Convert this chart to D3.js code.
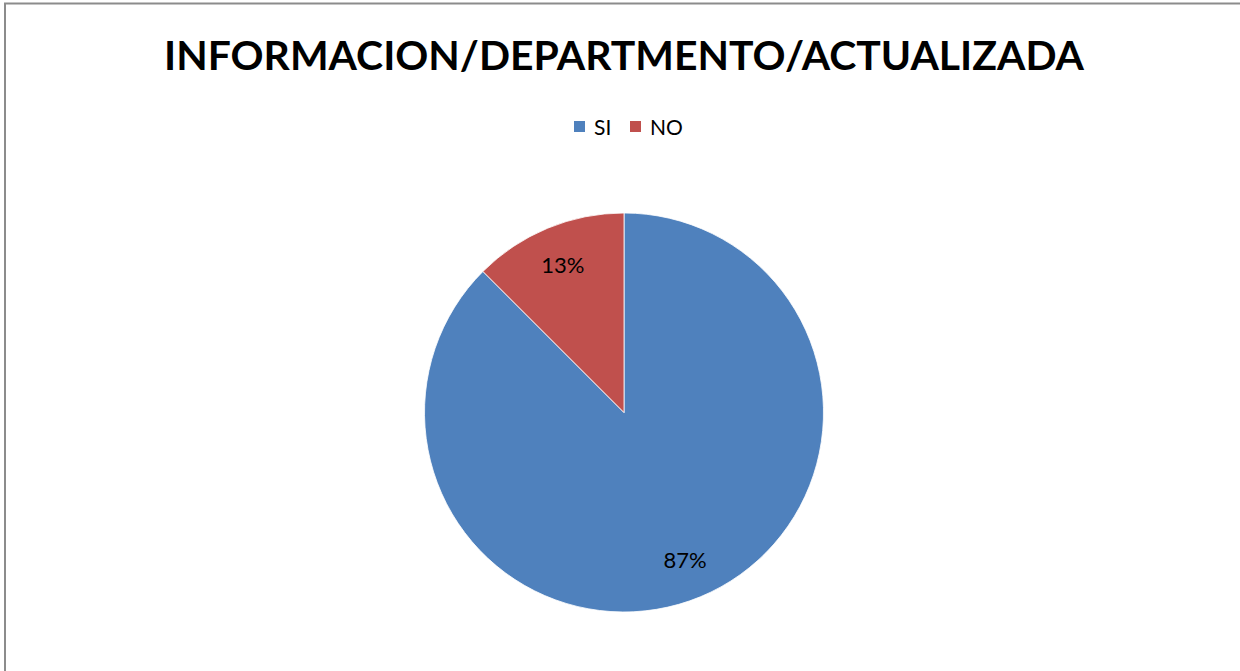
<!DOCTYPE html>
<html><head><meta charset="utf-8">
<script src="https://cdn.jsdelivr.net/npm/d3@7"></script>
<style>body{margin:0;background:#fff}svg{display:block}</style>
</head><body>
<svg id="c" width="1240" height="671"></svg>
<script>
const categories = ["SI", "NO"];
const values = [87.5, 12.5];
const labels = ["87%", "13%"];
const colors = ["#4F81BD", "#C0504D"];
const title = "INFORMACION/DEPARTMENTO/ACTUALIZADA";

const svg = d3.select("#c");
const W = 1240, H = 671;
const font = "Lato, 'Open Sans', sans-serif";

svg.append("rect").attr("x", 5).attr("y", 3.5).attr("width", W + 10).attr("height", H + 10)
  .attr("fill", "#fff").attr("stroke", "#8c8c8c").attr("stroke-width", 2);

svg.append("text").attr("x", 624).attr("y", 70).attr("text-anchor", "middle")
  .attr("font-family", font).attr("font-weight", "bold").attr("font-size", 40)
  .attr("textLength", 920).attr("lengthAdjust", "spacingAndGlyphs")
  .text(title);

// legend
const leg = svg.append("g");
const legX = [574, 630];
categories.forEach((c, i) => {
  leg.append("rect").attr("x", legX[i]).attr("y", 121).attr("width", 11).attr("height", 11).attr("fill", colors[i]);
  leg.append("text").attr("x", legX[i] + 20).attr("y", 134.5).attr("font-family", font)
    .attr("font-size", 21).attr("fill", "#000").text(c);
});

const cx = 624, cy = 412.5, r = 199.5;
const pie = d3.pie().sort(null).value(d => d)(values);
const arc = d3.arc().innerRadius(0).outerRadius(r);
const g = svg.append("g").attr("transform", `translate(${cx},${cy})`);
g.selectAll("path").data(pie).join("path").attr("d", arc)
  .attr("fill", (d, i) => colors[i]).attr("stroke", "#fff").attr("stroke-width", 0.8);

const la = d3.arc().innerRadius(0.8 * r).outerRadius(0.8 * r);
g.selectAll("text.l").data(pie).join("text").attr("class", "l")
  .attr("transform", d => `translate(${la.centroid(d)})`)
  .attr("text-anchor", "middle").attr("dy", "0.35em")
  .attr("font-family", font).attr("font-size", 22).attr("fill", "#000")
  .text((d, i) => labels[i]);
</script>
</body></html>
